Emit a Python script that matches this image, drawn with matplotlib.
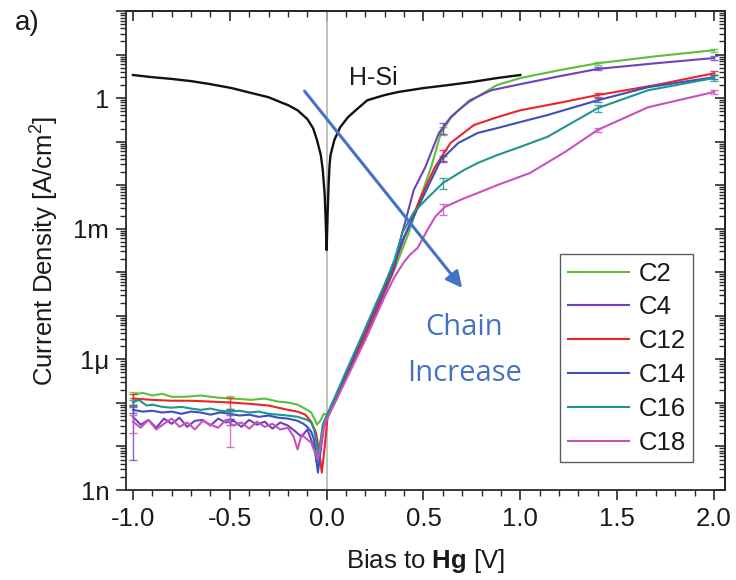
import numpy as np
import matplotlib
matplotlib.use('Agg')
import matplotlib.pyplot as plt
from matplotlib.ticker import LogLocator, MultipleLocator, FuncFormatter, NullFormatter

plt.rcParams['font.family'] = ['Liberation Sans', 'DejaVu Sans']
plt.rcParams['axes.unicode_minus'] = False
plt.rcParams['mathtext.fontset'] = 'custom'
plt.rcParams['mathtext.rm'] = 'Liberation Sans'
plt.rcParams['mathtext.bf'] = 'Liberation Sans:bold'
plt.rcParams['mathtext.it'] = 'Liberation Sans:italic'

# ---------------- data (bias in V, log10 of current density in A/cm^2) ----------------
hsi_v = [-1.0, -0.9, -0.8, -0.7, -0.6, -0.49, -0.41, -0.3, -0.24, -0.2, -0.15, -0.1, -0.07,
         -0.05, -0.03, -0.02, -0.01, -0.005, 0.0, 0.005, 0.01, 0.015, 0.02, 0.04, 0.07, 0.11,
         0.15, 0.21, 0.3, 0.37, 0.5, 0.63, 0.75, 0.88, 1.0]
hsi_logj = [0.53, 0.48, 0.44, 0.39, 0.32, 0.23, 0.14, 0.02, -0.09, -0.16, -0.28, -0.48, -0.69,
            -0.96, -1.31, -1.65, -2.22, -2.80, -3.49, -2.68, -2.00, -1.54, -1.31, -0.96, -0.67,
            -0.44, -0.28, -0.05, 0.07, 0.14, 0.23, 0.30, 0.37, 0.46, 0.53]

c2_v = [-1.0, -0.95, -0.9, -0.85, -0.8, -0.73, -0.65, -0.56, -0.48, -0.39, -0.32, -0.25, -0.2,
        -0.15, -0.1, -0.08, -0.06, -0.05, -0.04, -0.03, -0.015,
        0.0, 0.05, 0.1, 0.15, 0.2, 0.25, 0.3, 0.35, 0.42, 0.48, 0.54, 0.59, 0.64, 0.68, 0.73,
        0.8, 0.88, 1.0, 1.2, 1.4, 1.7, 2.0]
c2_logj = [-6.81, -6.77, -6.83, -6.79, -6.86, -6.86, -6.83, -6.88, -6.90, -6.93, -6.90, -6.97,
           -6.99, -7.04, -7.16, -7.22, -7.39, -7.50, -7.45, -7.39, -7.25,
           -7.27, -6.93, -6.42, -5.92, -5.46, -4.95, -4.45, -3.94, -3.14, -2.34, -1.58, -0.80,
           -0.46, -0.28, -0.11, 0.09, 0.30, 0.46, 0.64, 0.80, 0.96, 1.10]

c4_v = [-1.0, -0.96, -0.92, -0.88, -0.84, -0.8, -0.76, -0.72, -0.68, -0.64, -0.6, -0.56, -0.52,
        -0.48, -0.44, -0.4, -0.36, -0.32, -0.28, -0.24, -0.2, -0.16, -0.13, -0.1, -0.08, -0.06,
        -0.05, -0.04, -0.03, -0.015,
        0.0, 0.05, 0.1, 0.15, 0.2, 0.25, 0.3, 0.35, 0.39, 0.45, 0.51, 0.58, 0.64, 0.74, 0.85,
        1.0, 1.2, 1.4, 1.7, 2.0]
c4_logj = [-7.32, -7.50, -7.39, -7.57, -7.36, -7.48, -7.34, -7.55, -7.41, -7.39, -7.52, -7.36,
           -7.45, -7.41, -7.55, -7.39, -7.50, -7.43, -7.59, -7.45, -7.52, -7.66, -7.78, -7.61,
           -7.84, -8.12, -8.37, -8.19, -7.84, -7.50,
           -7.34, -6.88, -6.42, -5.96, -5.48, -4.98, -4.45, -3.90, -3.10, -2.11, -1.58, -0.80,
           -0.44, -0.05, 0.18, 0.32, 0.50, 0.67, 0.80, 0.92]

c12_v = [-1.0, -0.9, -0.8, -0.7, -0.6, -0.5, -0.4, -0.3, -0.2, -0.15, -0.11, -0.08, -0.055,
         -0.035, -0.025, -0.01,
         0.005, 0.05, 0.1, 0.15, 0.2, 0.25, 0.3, 0.35, 0.40, 0.48, 0.56, 0.64, 0.76, 0.88, 1.0,
         1.2, 1.4, 1.7, 2.0]
c12_logj = [-6.90, -6.93, -6.95, -6.95, -6.97, -6.99, -7.02, -7.06, -7.16, -7.20, -7.27, -7.43,
            -7.68, -8.23, -8.60, -8.00,
            -7.32, -6.86, -6.38, -5.89, -5.41, -4.89, -4.38, -3.83, -3.21, -2.34, -1.58, -1.03,
            -0.62, -0.44, -0.28, -0.11, 0.07, 0.30, 0.57]

c14_v = [-1.0, -0.95, -0.9, -0.85, -0.8, -0.75, -0.7, -0.65, -0.6, -0.55, -0.5, -0.45, -0.4,
         -0.35, -0.3, -0.25, -0.2, -0.15, -0.12, -0.1, -0.08, -0.065, -0.055, -0.045, -0.03,
         -0.015,
         0.0, 0.05, 0.1, 0.15, 0.2, 0.25, 0.3, 0.35, 0.40, 0.49, 0.59, 0.68, 0.78, 0.88, 1.0,
         1.14, 1.4, 1.66, 2.0]
c14_logj = [-7.16, -7.20, -7.18, -7.22, -7.20, -7.25, -7.20, -7.22, -7.27, -7.22, -7.25, -7.29,
            -7.27, -7.32, -7.29, -7.34, -7.36, -7.41, -7.48, -7.55, -7.66, -7.84, -8.26, -8.60,
            -8.07, -7.57,
            -7.34, -6.83, -6.33, -5.83, -5.32, -4.82, -4.31, -3.78, -3.19, -2.34, -1.42, -1.03,
            -0.80, -0.69, -0.55, -0.39, -0.05, 0.25, 0.48]

c16_v = [-1.0, -0.97, -0.93, -0.9, -0.85, -0.8, -0.75, -0.7, -0.65, -0.6, -0.55, -0.5, -0.45,
         -0.4, -0.35, -0.3, -0.25, -0.2, -0.15, -0.1, -0.08, -0.065, -0.055, -0.045, -0.035,
         -0.02,
         0.0, 0.05, 0.1, 0.15, 0.2, 0.25, 0.3, 0.35, 0.39, 0.45, 0.52, 0.60, 0.71, 0.78, 0.88,
         1.0, 1.14, 1.4, 1.66, 2.0]
c16_logj = [-6.99, -6.93, -7.06, -7.04, -7.09, -7.11, -7.09, -7.13, -7.16, -7.13, -7.18, -7.20,
            -7.18, -7.22, -7.20, -7.25, -7.27, -7.29, -7.32, -7.39, -7.45, -7.61, -7.84, -8.23,
            -8.00, -7.50,
            -7.29, -6.79, -6.28, -5.78, -5.28, -4.77, -4.27, -3.72, -3.10, -2.62, -2.30, -1.95,
            -1.65, -1.49, -1.31, -1.12, -0.89, -0.23, 0.18, 0.46]

c18_v = [-1.0, -0.96, -0.92, -0.88, -0.84, -0.8, -0.76, -0.72, -0.68, -0.64, -0.6, -0.56, -0.52,
         -0.48, -0.44, -0.4, -0.36, -0.32, -0.28, -0.24, -0.2, -0.17, -0.15, -0.13, -0.1, -0.08,
         -0.06, -0.045, -0.03, -0.015,
         0.0, 0.05, 0.1, 0.15, 0.2, 0.25, 0.3, 0.35, 0.40, 0.43, 0.47, 0.52, 0.56, 0.61, 0.7,
         0.78, 0.88, 1.05, 1.23, 1.4, 1.66, 2.0]
c18_logj = [-7.43, -7.57, -7.39, -7.61, -7.48, -7.36, -7.55, -7.45, -7.61, -7.41, -7.50, -7.57,
            -7.39, -7.52, -7.45, -7.59, -7.43, -7.55, -7.48, -7.61, -7.57, -7.78, -8.07, -7.73,
            -7.84, -7.91, -8.14, -8.30, -7.96, -7.57,
            -7.39, -6.93, -6.47, -6.01, -5.55, -5.05, -4.56, -4.11, -3.76, -3.60, -3.44, -3.03,
            -2.73, -2.50, -2.32, -2.18, -2.00, -1.72, -1.24, -0.73, -0.21, 0.14]

# error bars: bias positions, centre (log10 J) and relative (linear) half-width
eb_v = [-1.0, -0.5, 0.6, 1.4, 2.0]
c2_eb_logj = [-6.81, -6.90, -0.75, 0.80, 1.10]
c2_eb_rel = [0.15, 0.15, 0.20, 0.08, 0.08]
c4_eb_logj = [-7.32, -7.43, -0.68, 0.67, 0.92]
c4_eb_rel = [0.90, 0.15, 0.30, 0.08, 0.10]
c12_eb_logj = [-6.90, -6.99, -1.30, 0.07, 0.57]
c12_eb_rel = [0.30, 0.30, 0.28, 0.10, 0.10]
c14_eb_logj = [-7.16, -7.25, -1.40, -0.05, 0.48]
c14_eb_rel = [0.15, 0.25, 0.15, 0.10, 0.10]
c16_eb_logj = [-6.99, -7.20, -1.95, -0.23, 0.46]
c16_eb_rel = [0.15, 0.15, 0.28, 0.20, 0.15]
c18_eb_logj = [-7.43, -7.50, -2.55, -0.73, 0.14]
c18_eb_rel = [0.44, 0.70, 0.28, 0.12, 0.12]

labels = ['C2', 'C4', 'C12', 'C14', 'C16', 'C18']
colors = ['#5cbf3c', '#6c42c0', '#ee2424', '#3b4fbf', '#1e9591', '#c852b9']

series = [
    (c2_v, c2_logj, c2_eb_logj, c2_eb_rel),
    (c4_v, c4_logj, c4_eb_logj, c4_eb_rel),
    (c12_v, c12_logj, c12_eb_logj, c12_eb_rel),
    (c14_v, c14_logj, c14_eb_logj, c14_eb_rel),
    (c16_v, c16_logj, c16_eb_logj, c16_eb_rel),
    (c18_v, c18_logj, c18_eb_logj, c18_eb_rel),
]

ytick_labels = {-9: '1n', -6: '1\u03bc', -3: '1m', 0: '1'}

# ---------------- figure ----------------
W, H = 736, 580
fig = plt.figure(figsize=(W / 100, H / 100), dpi=100)
L, R, T, B = 126, 725, 11, 490
ax = fig.add_axes([L / W, 1 - B / H, (R - L) / W, (B - T) / H])

ax.set_yscale('log')
ax.set_xlim(-1.036, 2.057)
ax.set_ylim(1e-9, 1e2)

ax.axvline(0, color='#b5b5b5', lw=1.2, zorder=0.5)

ax.plot(hsi_v, 10 ** np.array(hsi_logj), color='#111111', lw=1.7, zorder=3)

handles = []
for (v, lj, eb_lj, eb_r), lab, col in zip(series, labels, colors):
    h, = ax.plot(v, 10 ** np.array(lj), color=col, lw=1.5, label=lab, zorder=2)
    handles.append(h)
    jc = 10 ** np.array(eb_lj)
    ax.errorbar(eb_v, jc, yerr=jc * np.array(eb_r), fmt='none', ecolor=col,
                elinewidth=1.0, capsize=3, capthick=1.0, alpha=0.8, zorder=2)

# spines & ticks
for s in ax.spines.values():
    s.set_linewidth(1.3)
    s.set_color('#2a2a2a')

ax.xaxis.set_major_locator(MultipleLocator(0.5))
ax.xaxis.set_minor_locator(MultipleLocator(0.1))
ax.xaxis.set_major_formatter(FuncFormatter(lambda x, p: f'{x:.1f}'))
ax.yaxis.set_major_locator(LogLocator(base=10, numticks=30))
ax.yaxis.set_minor_locator(LogLocator(base=10, subs=np.arange(2, 10), numticks=30))
ax.yaxis.set_minor_formatter(NullFormatter())


def yfmt(y, p):
    e = int(round(np.log10(y)))
    return ytick_labels.get(e, '')


ax.yaxis.set_major_formatter(FuncFormatter(yfmt))

ax.tick_params(axis='both', which='major', direction='out', length=7, width=1.2,
               labelsize=18.5, colors='#2a2a2a', labelcolor='#1a1a1a', pad=5)
ax.tick_params(axis='both', which='minor', direction='out', length=4, width=1.0,
               colors='#2a2a2a')
ax.tick_params(top=False, right=False)

# mirrored inward ticks on top and right
sx = ax.secondary_xaxis('top')
sx.xaxis.set_major_locator(MultipleLocator(0.5))
sx.xaxis.set_minor_locator(MultipleLocator(0.1))
sx.tick_params(which='major', direction='in', length=7, width=1.2, labeltop=False,
               colors='#2a2a2a')
sx.tick_params(which='minor', direction='in', length=4, width=1.0, colors='#2a2a2a')
sx.spines['top'].set_linewidth(1.3)

sy = ax.secondary_yaxis('right')
sy.yaxis.set_major_locator(LogLocator(base=10, numticks=30))
sy.yaxis.set_minor_locator(LogLocator(base=10, subs=np.arange(2, 10), numticks=30))
sy.tick_params(which='major', direction='in', length=7, width=1.2, labelright=False,
               colors='#2a2a2a')
sy.tick_params(which='minor', direction='in', length=4, width=1.0, colors='#2a2a2a')
sy.yaxis.set_minor_formatter(NullFormatter())
sy.spines['right'].set_linewidth(1.3)

ax.set_xlabel(r'Bias to $\mathbf{Hg}$ [V]', fontsize=18.5, color='#1a1a1a', labelpad=12)
ax.set_ylabel(r'Current Density [A/cm$^{2}$]', fontsize=18.5, color='#1a1a1a', labelpad=9)

# annotations
ax.text(0.24, 10 ** 0.46, 'H-Si', fontsize=18, color='#1a1a1a', ha='center', va='center')
ax.annotate('', xy=(0.70, 10 ** -4.36), xytext=(-0.114, 10 ** 0.16),
            arrowprops=dict(arrowstyle='-|>', mutation_scale=24, lw=2.2,
                            color='#4472c4', shrinkA=0, shrinkB=0), zorder=5)
ax.text(0.71, 10 ** -5.80, 'Chain\nIncrease', fontsize=21, color='#4472c4',
        family=['Open Sans', 'DejaVu Sans'], ha='center', va='center', linespacing=1.75)

fig.text(15 / W, 1 - 10 / H, 'a)', fontsize=20, color='#1a1a1a', ha='left', va='top')

leg = ax.legend(handles=handles, loc='lower right', bbox_to_anchor=(0.947, 0.058),
                borderaxespad=0, fontsize=18.5, frameon=True, fancybox=False,
                edgecolor='#333333', handlelength=2.4, handletextpad=0.35,
                labelspacing=0.38, borderpad=0.3)
leg.get_frame().set_linewidth(1.0)
for t in leg.get_texts():
    t.set_color('#1a1a1a')

fig.savefig('out.png', dpi=100)
